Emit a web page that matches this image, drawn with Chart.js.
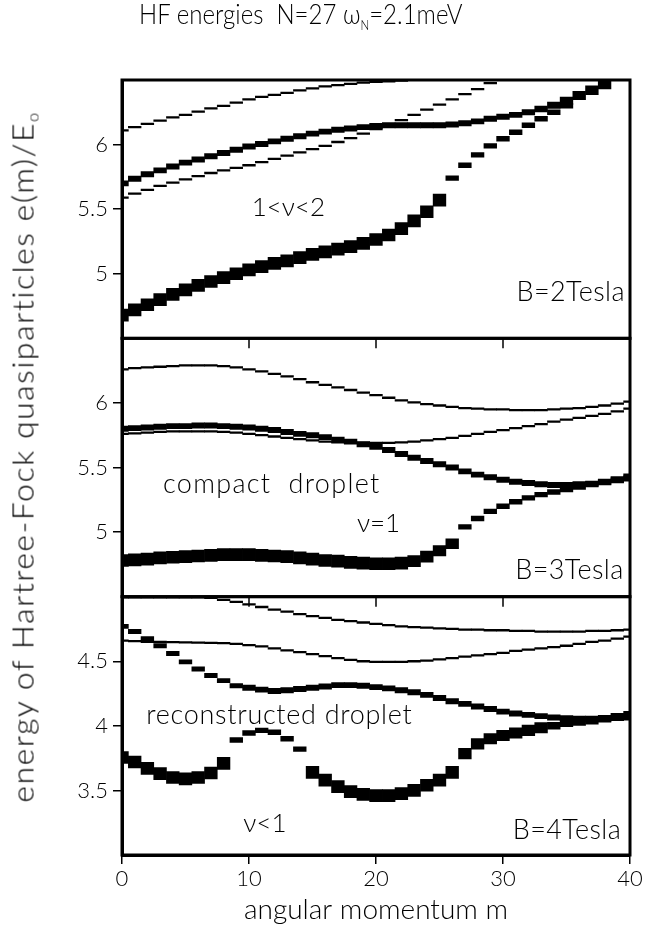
<!DOCTYPE html>
<html>
<head>
<meta charset="utf-8">
<script src="https://cdn.jsdelivr.net/npm/chart.js@4.4.1/dist/chart.umd.min.js"></script>
<style>
  body { margin: 0; background: #fff; }
  #wrap { position: relative; width: 646px; height: 933px; }
  #title { position: absolute; left: 139px; top: 0; font: 300 27px/27px Lato, sans-serif; white-space: pre; color: #000;
           transform: scaleX(0.89); transform-origin: 0 0; }
  #title sub { font-size: 13px; vertical-align: -6px; }
  #ytitle { position: absolute; left: 27px; top: 457px; font: 300 30px/30px Lato, sans-serif; white-space: pre; color: #000;
            letter-spacing: 1.5px; transform: translate(-50%, -50%) rotate(-90deg) scaleX(1.06); z-index: 2; }
  #ytitle sub { font-size: 15px; vertical-align: -5px; }
  canvas { position: absolute; left: 0; top: 0; }
</style>
</head>
<body>
<div id="wrap">
  <canvas id="hf" width="646" height="933"></canvas>
  <div id="title">HF energies  N=27 ω<sub>N</sub>=2.1meV</div>
  <div id="ytitle">energy of Hartree-Fock quasiparticles e(m)/E<sub>o</sub></div>
</div>
<script>
// angular momentum m of the single particle states
const m = [0, 1, 2, 3, 4, 5, 6, 7, 8, 9, 10, 11, 12, 13, 14, 15, 16, 17, 18, 19, 20,
           21, 22, 23, 24, 25, 26, 27, 28, 29, 30, 31, 32, 33, 34, 35, 36, 37, 38, 39, 40];

// B = 2 Tesla : HF energies e(m)/E0 and occupation (0 = empty, 1 = filled)
const e2A = [6.11, 6.135, 6.16, 6.185, 6.21, 6.23, 6.255, 6.28, 6.30, 6.325, 6.35, 6.37, 6.385, 6.40, 6.42, 6.435, 6.45, 6.46, 6.47, 6.48, 6.485,
             6.49, 6.495, null, null, null, null, null, null, null, null, null, null, null, null, null, null, null, null, null, null];
const o2A = [0, 0, 0, 0, 0, 0, 0, 0, 0, 0, 0, 0, 0, 0, 0, 0, 0, 0, 0, 0, 0,
             0, 0, 0, 0, 0, 0, 0, 0, 0, 0, 0, 0, 0, 0, 0, 0, 0, 0, 0, 0];
const e2B = [5.70, 5.735, 5.77, 5.80, 5.83, 5.86, 5.885, 5.91, 5.935, 5.96, 5.985, 6.005, 6.025, 6.045, 6.065, 6.085, 6.10, 6.115, 6.125, 6.135, 6.145,
             6.15, 6.15, 6.15, 6.15, 6.15, 6.155, 6.165, 6.18, 6.20, 6.215, 6.23, 6.25, 6.275, 6.305, 6.34, 6.38, 6.42, 6.465, null, null];
const o2B = [0.35, 0.35, 0.35, 0.35, 0.35, 0.35, 0.35, 0.35, 0.35, 0.35, 0.35, 0.35, 0.35, 0.35, 0.35, 0.35, 0.35, 0.35, 0.35, 0.35, 0.35,
             0.35, 0.35, 0.35, 0.35, 0.35, 0.35, 0.35, 0.35, 0.35, 0.35, 0.35, 0.35, 0.4, 0.45, 0.55, 0.65, 0.7, 0.7, 0, 0];
const e2C = [4.68, 4.72, 4.76, 4.80, 4.84, 4.875, 4.91, 4.94, 4.97, 5.00, 5.03, 5.055, 5.08, 5.10, 5.125, 5.15, 5.17, 5.19, 5.21, 5.235, 5.265,
             5.30, 5.35, 5.41, 5.48, 5.57, 5.74, 5.84, 5.92, 5.99, 6.045, 6.095, 6.15, 6.20, 6.25, 6.30, null, null, null, null, null];
const o2C = [1, 1, 1, 1, 1, 1, 1, 1, 1, 1, 1, 1, 1, 1, 1, 1, 1, 1, 1, 1, 1,
             1, 1, 1, 1, 1, 0.3, 0.3, 0.3, 0.3, 0.3, 0.3, 0.3, 0.3, 0.3, 0.3, 0, 0, 0, 0, 0];
const e2D = [5.59, 5.62, 5.65, 5.68, 5.705, 5.73, 5.755, 5.78, 5.80, 5.82, 5.84, 5.865, 5.89, 5.915, 5.94, 5.965, 5.99, 6.02, 6.05, 6.085, 6.12,
             6.155, 6.19, 6.23, 6.27, 6.31, 6.35, 6.39, 6.43, 6.475, null, null, null, null, null, null, null, null, null, null, null];
const o2D = o2A;

// B = 3 Tesla
const e3E = [6.26, 6.27, 6.275, 6.28, 6.285, 6.29, 6.29, 6.29, 6.285, 6.275, 6.26, 6.245, 6.225, 6.205, 6.185, 6.16, 6.14, 6.12, 6.10, 6.08, 6.06,
             6.04, 6.02, 6.005, 5.99, 5.98, 5.97, 5.96, 5.955, 5.95, 5.95, 5.945, 5.945, 5.945, 5.95, 5.955, 5.96, 5.97, 5.98, 5.995, 6.01];
const o3E = o2A;
const e3F = [5.80, 5.805, 5.81, 5.815, 5.82, 5.82, 5.825, 5.825, 5.82, 5.815, 5.81, 5.80, 5.79, 5.775, 5.76, 5.75, 5.735, 5.715, 5.70, 5.68, 5.66,
             5.635, 5.605, 5.575, 5.55, 5.525, 5.50, 5.47, 5.445, 5.425, 5.405, 5.39, 5.38, 5.37, 5.365, 5.365, 5.37, 5.375, 5.385, 5.40, 5.415];
const o3F = [0.35, 0.35, 0.35, 0.35, 0.35, 0.35, 0.35, 0.35, 0.35, 0.35, 0.35, 0.35, 0.35, 0.35, 0.35, 0.35, 0.35, 0.35, 0.35, 0.35, 0.35,
             0.35, 0.35, 0.35, 0.35, 0.35, 0.35, 0.35, 0.35, 0.35, 0.35, 0.35, 0.35, 0.35, 0.35, 0.35, 0.35, 0.35, 0.35, 0.35, 0.35];
const e3G = [5.76, 5.765, 5.77, 5.775, 5.78, 5.78, 5.78, 5.78, 5.775, 5.77, 5.76, 5.75, 5.74, 5.73, 5.72, 5.71, 5.70, 5.695, 5.69, 5.69, 5.69,
             5.69, 5.695, 5.70, 5.71, 5.72, 5.73, 5.745, 5.76, 5.775, 5.79, 5.805, 5.82, 5.835, 5.855, 5.87, 5.885, 5.90, 5.915, 5.935, 5.955];
const o3G = o2A;
const e3H = [4.78, 4.785, 4.79, 4.80, 4.805, 4.81, 4.815, 4.82, 4.825, 4.825, 4.825, 4.82, 4.815, 4.81, 4.80, 4.79, 4.78, 4.775, 4.765, 4.76, 4.755,
             4.755, 4.76, 4.775, 4.81, 4.855, 4.91, 5.04, 5.105, 5.16, 5.20, 5.235, 5.265, 5.29, 5.31, 5.33, 5.35, 5.37, 5.39, 5.41, 5.43];
const o3H = [1, 1, 1, 1, 1, 1, 1, 1, 1, 1, 1, 1, 1, 1, 1, 1, 1, 1, 1, 1, 1,
             1, 1, 0.9, 0.9, 0.85, 0.8, 0.3, 0.3, 0.3, 0.3, 0.3, 0.3, 0.3, 0.3, 0.3, 0.35, 0.35, 0.35, 0.35, 0.35];

// B = 4 Tesla
const e4I = [4.995, 4.995, 4.995, 4.995, 4.995, 4.995, 4.995, 4.99, 4.975, 4.96, 4.94, 4.92, 4.90, 4.885, 4.865, 4.85, 4.835, 4.82, 4.81, 4.80, 4.79,
             4.78, 4.77, 4.765, 4.76, 4.755, 4.75, 4.745, 4.745, 4.74, 4.74, 4.735, 4.735, 4.73, 4.73, 4.73, 4.73, 4.735, 4.735, 4.74, 4.745];
const o4I = o2A;
const e4J = [4.66, 4.655, 4.65, 4.65, 4.648, 4.646, 4.645, 4.643, 4.64, 4.635, 4.625, 4.615, 4.60, 4.585, 4.57, 4.555, 4.54, 4.525, 4.51, 4.50, 4.495,
             4.495, 4.495, 4.50, 4.505, 4.515, 4.525, 4.535, 4.545, 4.555, 4.565, 4.58, 4.59, 4.60, 4.61, 4.62, 4.635, 4.65, 4.66, 4.675, 4.69];
const o4J = o2A;
const e4K = [4.77, 4.73, 4.675, 4.62, 4.56, 4.495, 4.44, 4.39, 4.35, 4.31, 4.295, 4.28, 4.27, 4.275, 4.285, 4.295, 4.305, 4.315, 4.315, 4.31, 4.30,
             4.29, 4.275, 4.26, 4.24, 4.215, 4.19, 4.17, 4.15, 4.13, 4.11, 4.095, 4.085, 4.075, 4.065, 4.06, 4.055, 4.055, 4.055, 4.06, 4.065];
const o4K = [0.25, 0.25, 0.25, 0.25, 0.25, 0.25, 0.25, 0.25, 0.25, 0.25, 0.35, 0.35, 0.35, 0.35, 0.35, 0.35, 0.35, 0.35, 0.35, 0.35, 0.35,
             0.35, 0.35, 0.35, 0.35, 0.35, 0.35, 0.35, 0.35, 0.35, 0.35, 0.35, 0.35, 0.35, 0.35, 0.35, 0.35, 0.35, 0.35, 0.35, 0.35];
const e4L = [3.755, 3.72, 3.67, 3.63, 3.60, 3.59, 3.60, 3.635, 3.71, 3.89, 3.945, 3.965, 3.95, 3.90, 3.82, 3.64, 3.58, 3.53, 3.49, 3.47, 3.46,
             3.46, 3.475, 3.50, 3.54, 3.58, 3.64, 3.785, 3.86, 3.90, 3.925, 3.945, 3.965, 3.985, 4.00, 4.02, 4.03, 4.04, 4.055, 4.07, 4.085];
const o4L = [1, 1, 1, 1, 1, 1, 1, 1, 1, 0.3, 0.3, 0.3, 0.3, 0.3, 0.3, 1, 1, 1, 1, 1, 1,
             1, 1, 1, 1, 1, 1, 0.85, 0.85, 0.85, 0.85, 0.85, 0.85, 0.85, 0.5, 0.5, 0.5, 0.5, 0.5, 0.5, 0.5];

// y ticks of the three panels
const ticks2T = [5, 5.5, 6];
const ticks3T = [5, 5.5, 6];
const ticks4T = [3.5, 4, 4.5];

const FONT = 'Lato, sans-serif';
const UNIT_PX = 129;   // pixels per energy unit in every panel

// each level is drawn as a short horizontal bar, thicker when more occupied
function levelBars(energy, occ, axis) {
  const pts = energy.map((e, i) => {
    if (e == null) return null;
    const half = (1.6 + 10.4 * occ[i]) / UNIT_PX / 2;
    return {x: m[i], y: [e - half, e + half]};
  }).filter(Boolean);
  return {
    data: pts,
    yAxisID: axis,
    backgroundColor: '#000',
    borderWidth: 0,
    grouped: false,
    categoryPercentage: 1,
    barPercentage: 1
  };
}

function panelAxis(min, max, tickValues, weight) {
  return {
    type: 'linear',
    position: 'left',
    stack: 'panels',
    stackWeight: 1,
    weight: weight,
    min: min,
    max: max,
    afterBuildTicks: axis => { axis.ticks = tickValues.map(v => ({value: v})); },
    afterFit: axis => { axis.width = 122; },
    ticks: {
      color: '#000',
      padding: 5,
      font: {family: FONT, size: 22, weight: 300},
      callback: v => String(v)
    },
    grid: {drawOnChartArea: false, drawTicks: true, tickLength: 9, color: '#000', lineWidth: 1.5},
    border: {display: true, color: '#000', width: 3}
  };
}

const panelNotes = [
  {axis: 'y1', text: '1<ν<2', m: 13.1, e: 5.448, align: 'center', size: 26, gap: 0},
  {axis: 'y1', text: 'B=2Tesla', m: 39.6, e: 4.79, align: 'right', size: 27, gap: 0.4},
  {axis: 'y2', text: 'compact  droplet', m: 3.23, e: 5.306, align: 'left', size: 27, gap: 1.3},
  {axis: 'y2', text: 'ν=1', m: 18.5, e: 5.0, align: 'left', size: 26, gap: 0},
  {axis: 'y2', text: 'B=3Tesla', m: 39.5, e: 4.64, align: 'right', size: 27, gap: 0.4},
  {axis: 'y3', text: 'reconstructed droplet', m: 1.91, e: 4.017, align: 'left', size: 27, gap: 0.7},
  {axis: 'y3', text: 'ν<1', m: 9.55, e: 3.177, align: 'left', size: 26, gap: 0},
  {axis: 'y3', text: 'B=4Tesla', m: 39.3, e: 3.126, align: 'right', size: 27, gap: 0.4}
];

// closed frame round each panel, with inward m ticks on the lower ones
const frames = {
  id: 'frames',
  afterDatasetsDraw(chart) {
    const {ctx, chartArea: {left, right}, scales} = chart;
    ctx.save();
    ctx.strokeStyle = '#000';
    ['y1', 'y2', 'y3'].forEach((id, k) => {
      const s = scales[id];
      ctx.lineWidth = 3;
      ctx.strokeRect(left, s.top, right - left, s.bottom - s.top);
      if (k > 0) {
        ctx.lineWidth = 1.5;
        [10, 20, 30].forEach(v => {
          const px = scales.x.getPixelForValue(v);
          ctx.beginPath();
          ctx.moveTo(px, s.top);
          ctx.lineTo(px, s.top + 10);
          ctx.stroke();
        });
      }
    });
    ctx.restore();
  }
};

const notes = {
  id: 'notes',
  afterDatasetsDraw(chart) {
    const {ctx, scales} = chart;
    ctx.save();
    ctx.fillStyle = '#000';
    ctx.textBaseline = 'alphabetic';
    panelNotes.forEach(n => {
      ctx.font = '300 ' + n.size + 'px ' + FONT;
      ctx.letterSpacing = n.gap + 'px';
      ctx.textAlign = n.align;
      ctx.fillText(n.text, scales.x.getPixelForValue(n.m), scales[n.axis].getPixelForValue(n.e));
    });
    ctx.restore();
  }
};

new Chart(document.getElementById('hf'), {
  type: 'bar',
  data: {
    datasets: [
      levelBars(e2C, o2C, 'y1'), levelBars(e2B, o2B, 'y1'), levelBars(e2D, o2D, 'y1'), levelBars(e2A, o2A, 'y1'),
      levelBars(e3H, o3H, 'y2'), levelBars(e3F, o3F, 'y2'), levelBars(e3G, o3G, 'y2'), levelBars(e3E, o3E, 'y2'),
      levelBars(e4L, o4L, 'y3'), levelBars(e4K, o4K, 'y3'), levelBars(e4J, o4J, 'y3'), levelBars(e4I, o4I, 'y3')
    ]
  },
  options: {
    responsive: false,
    animation: false,
    layout: {padding: {top: 80, right: 16, bottom: 0, left: 0}},
    plugins: {legend: {display: false}, tooltip: {enabled: false}},
    scales: {
      x: {
        type: 'linear',
        min: 0,
        max: 40,
        offset: false,
        afterFit: axis => { axis.height = 78; },
        ticks: {stepSize: 10, color: '#000', padding: 2, maxRotation: 0, font: {family: FONT, size: 22, weight: 300}},
        grid: {drawOnChartArea: false, offset: false, tickLength: 9, color: '#000', lineWidth: 1.5},
        border: {display: true, color: '#000', width: 3},
        title: {
          display: true,
          text: 'angular momentum m',
          color: '#000',
          font: {family: FONT, size: 28, weight: 300},
          padding: {top: 0, bottom: 6}
        }
      },
      y1: panelAxis(4.5, 6.5, ticks2T, 3),
      y2: panelAxis(4.5, 6.5, ticks3T, 2),
      y3: panelAxis(3.0, 5.0, ticks4T, 1)
    }
  },
  plugins: [frames, notes]
});
</script>
</body>
</html>
